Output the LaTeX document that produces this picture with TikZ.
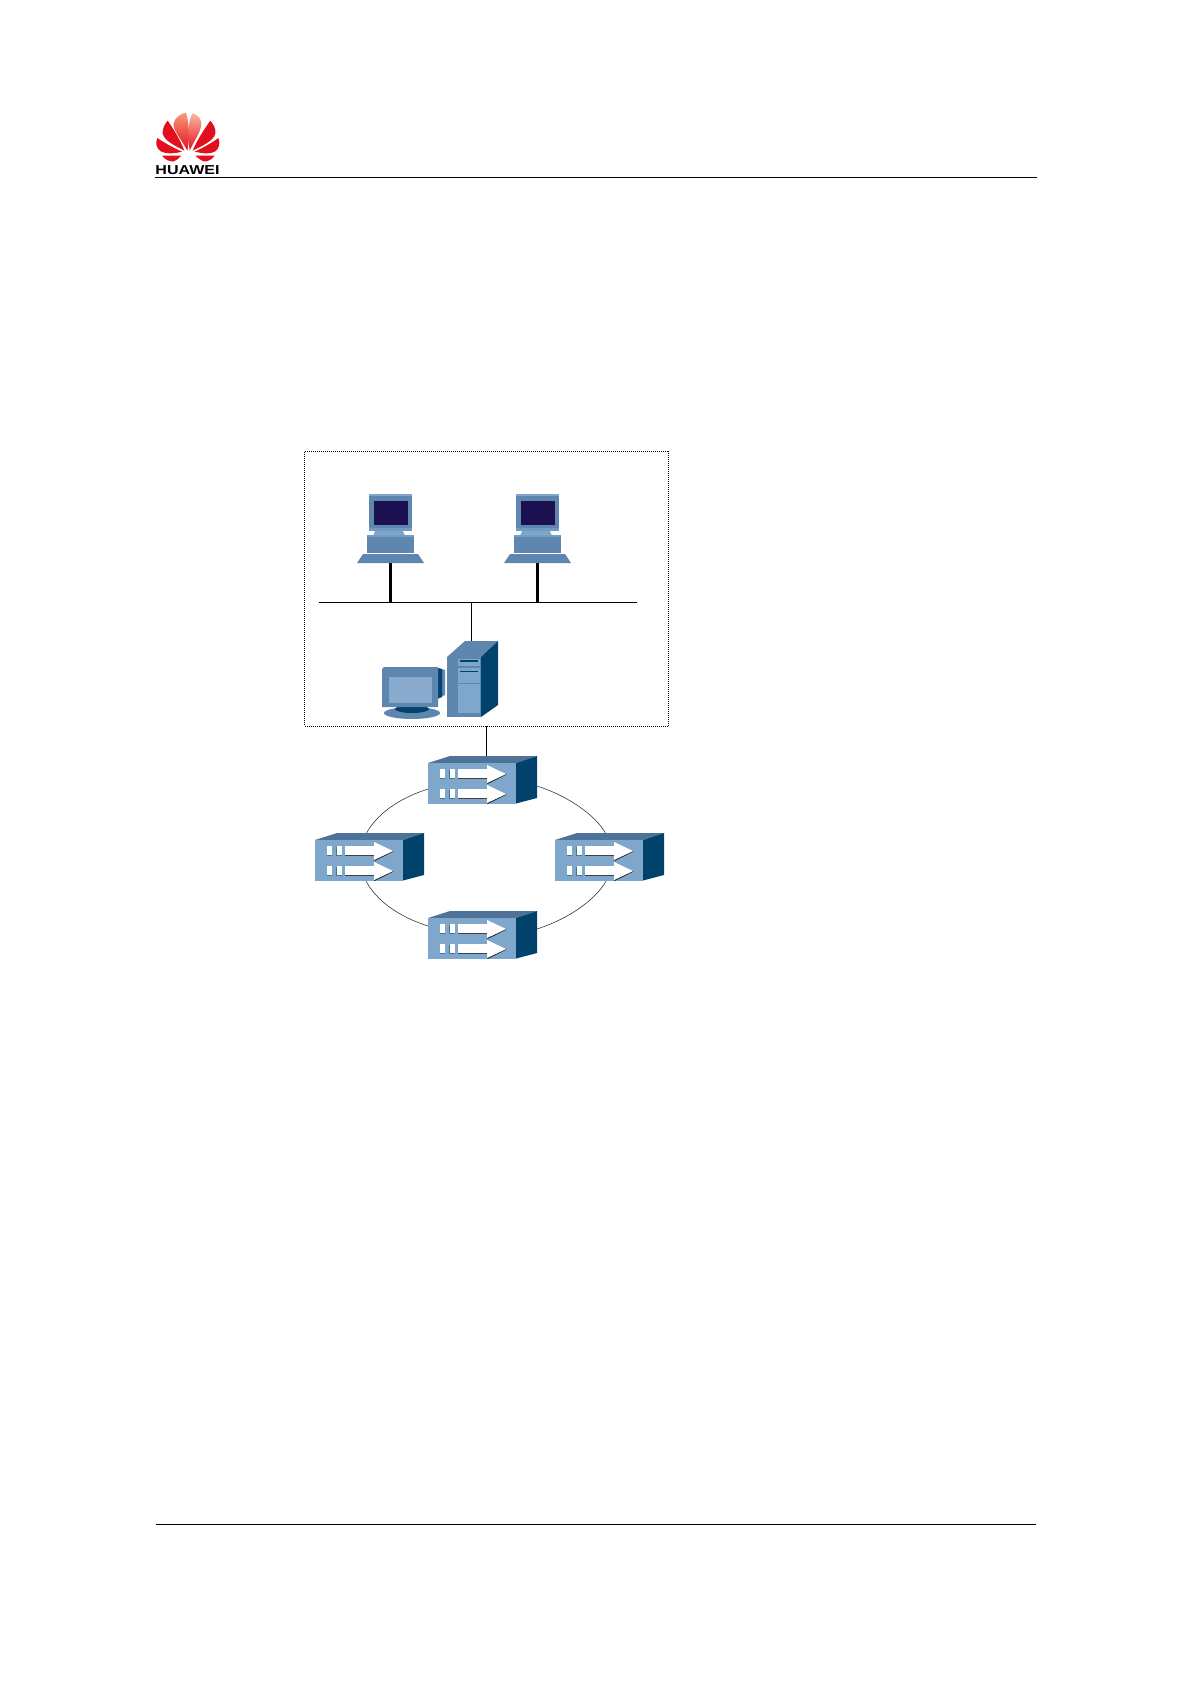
\documentclass[tikz,border=0pt]{standalone}
\usepackage{graphicx}
\usepackage{fontspec}
\setmainfont{Liberation Sans}
\definecolor{blLight}{HTML}{7FA6CB}
\definecolor{blMid}{HTML}{5F86AE}
\definecolor{blTop}{HTML}{4F7299}
\definecolor{blDark}{HTML}{00426B}
\definecolor{blScreen}{HTML}{1C1150}
\definecolor{blScreenL}{HTML}{88AACD}
\definecolor{hwRed}{HTML}{E2101F}
\definecolor{hwOr}{HTML}{F79A78}
\tikzset{
  rule/.style={draw=black,line width=0.6pt},
  ring/.style={draw=black!85,line width=0.4pt},
  wire/.style={draw=black,line width=0.85pt},
  thickwire/.style={draw=black,line width=1.7pt},
  thinwire/.style={draw=black,line width=0.7pt},
  box/.style={rectangle,inner sep=0pt,outer sep=0pt},
  petal/.style={fill=hwRed},
  petalB/.style={top color=hwOr,bottom color=hwRed},
  pics/switchicon/.style={code={
    \fill[blTop] (0,7)--(22,0)--(109,0)--(88,7)--cycle;
    \fill[blLight] (0,7) rectangle (88,47.5);
    \fill[blDark] (88,7)--(109,0)--(109,42)--(88,47.5)--cycle;
    \foreach \d in {0,20}{
      \fill[blDark!50!blLight] (11.5,13.5+\d) rectangle (16.6,22.6+\d);
      \fill[blDark!50!blLight] (21,13.5+\d) rectangle (26.6,22.6+\d);
      \fill[white] (12,13+\d) rectangle (17,22+\d);
      \fill[white] (21.5,13+\d) rectangle (27,22+\d);
      \fill[black!85] (30,21.5+\d)--(59,21.5+\d)--(59,22.9+\d)--(30,22.9+\d)--cycle;
      \fill[black!85] (59,27+\d)--(78,18+\d)--(78,18.8+\d)--(59.6,28+\d)--cycle;
      \fill[white] (30,13+\d)--(59,13+\d)--(59,9+\d)--(78,18+\d)--(59,27+\d)--(59,22+\d)--(30,22+\d)--cycle;
    }
  }},
  pics/pcicon/.style={code={
    % origin at north-west corner of the box (357,494)
    \fill[blLight] (18,37) -- (46,37) -- (48,42) -- (16,42) -- cycle;
    \fill[blMid] (10,41) rectangle (57,59);
    \fill[blLight!70!blMid] (10,41) rectangle (57,43);
    \fill[blMid] (6,60) -- (61,60) -- (67,69) -- (0,69) -- cycle;
    \fill[blMid] (12,0) rectangle (55,37);
    \fill[blLight] (12,0) rectangle (55,1.5);
    \fill[blLight!60!blMid] (12,34) rectangle (55,37);
    \fill[blScreen] (17,7) rectangle (51,31);
  }},
  pics/servericon/.style={code={
    % origin at north-west corner of the box (382,641)
    % tower
    \fill[blMid] (65,16)--(83,0)--(116,0)--(99,16)--cycle;
    \fill[blDark] (99,16)--(116,0)--(116,64)--(99,76)--cycle;
    \fill[blMid] (65,16) rectangle (99,76);
    \fill[blLight] (76,18) rectangle (98,25);
    \fill[blDark] (78,19.3) rectangle (96,21.3);
    \fill[blLight] (76,27) rectangle (98,42);
    \fill[blDark] (78,29.6) rectangle (96,30.6);
    \fill[blLight] (76,43) rectangle (98,72);
    % monitor
    \fill[blMid] (56,27) -- (63,29) -- (63,54) -- (56,57) -- cycle;
    \fill[blDark] (55,27) -- (60,28) -- (60,56) -- (55,58) -- cycle;
    \fill[blMid] (30,72) ellipse (28 and 6);
    \fill[blDark] (30,68) ellipse (17 and 4);
    \fill[blMid] (0,28) -- (2,26) -- (56,26) -- (56,66) -- (0,66) -- cycle;
    \fill[blScreenL] (7,36) rectangle (50,62);
  }},
}
\begin{document}
\begin{tikzpicture}[x=0.75pt,y=-0.75pt]
\useasboundingbox (0,0) rectangle (1190,1684);
\fill[white] (0,0) rectangle (1190,1684);

% header logo
\begin{scope}[shift={(152,108)},x=0.25pt,y=-0.25pt]
  % top-centre
  \shade[petalB] (106,128) .. controls (86,90) and (60,64) .. (65,44) .. controls (70,28) and (88,16) .. (102,14) .. controls (112,50) and (114,90) .. cycle;
  \shade[top color=hwOr!70!white,bottom color=hwRed] (113,128) .. controls (108,90) and (106,40) .. (122,16) .. controls (136,20) and (148,32) .. (148,46) .. controls (148,72) and (126,98) .. cycle;
  % upper
  \fill[petal] (97,128) .. controls (76,116) and (36,100) .. (32,76) .. controls (30,62) and (40,46) .. (47,38) .. controls (64,62) and (86,98) .. cycle;
  \fill[petal] (122,128) .. controls (134,98) and (158,62) .. (175,38) .. controls (184,48) and (192,62) .. (190,76) .. controls (186,100) and (144,116) .. cycle;
  % lower
  \fill[petal] (90,131) .. controls (62,118) and (36,104) .. (16,90) .. controls (10,104) and (12,120) .. (26,130) .. controls (44,140) and (70,136) .. cycle;
  \fill[petal] (128,131) .. controls (156,118) and (180,104) .. (199,90) .. controls (205,104) and (203,120) .. (190,130) .. controls (174,140) and (150,136) .. cycle;
  % bottom
  \fill[petal] (88,143) -- (30,143) .. controls (38,154) and (52,162) .. (66,160) .. controls (74,157) and (82,150) .. cycle;
  \fill[petal] (130,143) -- (188,143) .. controls (180,154) and (168,162) .. (154,160) .. controls (146,157) and (138,150) .. cycle;
\end{scope}
\node[box,anchor=base] (logotext) at (187.5,174.3) {\scalebox{1.24}[1]{\fontsize{9.7pt}{9.7pt}\selectfont\bfseries HUAWEI}};

% page rules
\coordinate (hdrL) at (155,177.5);
\coordinate (hdrR) at (1037,177.5);
\coordinate (ftrL) at (155.5,1524);
\coordinate (ftrR) at (1036,1524);
\draw[rule] (hdrL) -- (hdrR);
\draw[rule] (ftrL) -- (ftrR);

% LAN frame
\node[box,draw=black,densely dotted,line width=0.5pt,anchor=north west,minimum width=273pt,minimum height=206.25pt] (lan) at (304.5,451) {};

% device placeholders
\tikzset{pcbox/.style={box,anchor=north west,minimum width=50.25pt,minimum height=51.75pt},
         swbox/.style={box,anchor=north west,minimum width=81.75pt,minimum height=36pt}}
\node[pcbox] (pcA) at (357,494) {};
\node[pcbox] (pcB) at (504,494) {};
\node[box,anchor=north west,minimum width=87pt,minimum height=57pt] (srv) at (382,641) {};
\node[swbox] (swT) at (428,756) {};
\node[swbox] (swL) at (315,833) {};
\node[swbox] (swR) at (555,833) {};
\node[swbox] (swB) at (428,911) {};

% named points on the bus and the ring
\coordinate (busL) at (319,602.5);
\coordinate (busR) at (637,602.5);
\coordinate (srvTop) at (471.7,641);
\coordinate (swTup) at (486.3,756);
\coordinate (swTl) at (428,789);
\coordinate (swTr) at (530,784);
\coordinate (swLt) at (366,834);
\coordinate (swLb) at (366,881);
\coordinate (swRt) at (606,834);
\coordinate (swRb) at (606,881);
\coordinate (swBl) at (428,926);
\coordinate (swBr) at (530,931);

% connectors
\draw[thinwire] (busL) -- (busR);
\draw[thickwire] (pcA.south) -- (pcA.south |- busL);
\draw[thickwire] (pcB.south) -- (pcB.south |- busL);
\draw[wire] (srvTop |- busL) -- (srvTop);
\draw[wire] (swTup |- lan.south) -- (swTup);

\draw[ring] (swTl) .. controls +(-29.5,9.4) and +(10.3,-19.5) .. (swLt);
\draw[ring] (swTr) .. controls +(34,9) and +(-10.3,-19.5) .. (swRt);
\draw[ring] (swLb) .. controls +(10.3,19.5) and +(-29.5,-9.4) .. (swBl);
\draw[ring] (swRb) .. controls +(-10.3,19.5) and +(34,-9) .. (swBr);

% device drawings
\pic at (pcA.north west) {pcicon};
\pic at (pcB.north west) {pcicon};
\pic at (srv.north west) {servericon};
\pic at (swT.north west) {switchicon};
\pic at (swL.north west) {switchicon};
\pic at (swR.north west) {switchicon};
\pic at (swB.north west) {switchicon};
\end{tikzpicture}
\end{document}
